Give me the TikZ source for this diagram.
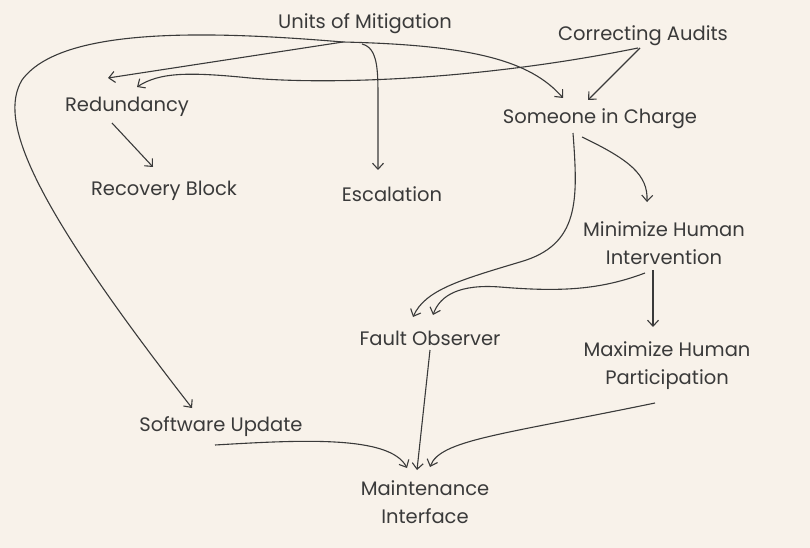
\documentclass[tikz,border=0pt]{standalone}
\usepackage{fontspec}
\setmainfont{Poppins}
\usetikzlibrary{arrows.meta,calc}
\definecolor{bg}{HTML}{F8F2EA}
\definecolor{ink}{HTML}{3A3A3A}
\begin{document}
\begin{tikzpicture}[x=1pt,y=-1pt,
  lbl/.style={inner sep=0pt,text=ink,font=\fontsize{19.5}{28}\selectfont,align=center},
  arr/.style={draw=ink,line width=1.1pt,-{Straight Barb[length=6pt,width=11pt,line width=1.1pt]}},
  ln/.style={draw=ink,line width=1.1pt}]
\useasboundingbox[fill=bg] (0,0) rectangle (810,548);
\node[lbl] (um)  at (365,24)  {Units of Mitigation};
\node[lbl] (ca)  at (643,36)  {Correcting Audits};
\node[lbl] (red) at (127,107) {Redundancy};
\node[lbl] (sic) at (600,119) {Someone in Charge};
\node[lbl] (rb)  at (164,191) {Recovery Block};
\node[lbl] (esc) at (392,194) {Escalation};
\node[lbl] (mhi) at (664,243) {Minimize Human\\Intervention};
\node[lbl] (fo)  at (430,338) {Fault Observer};
\node[lbl] (mhp) at (667,366) {Maximize Human\\Participation};
\node[lbl] (su)  at (221,427) {Software Update};
\node[lbl] (mi)  at (425,502) {Maintenance\\Interface};
% Units of Mitigation
\draw[arr] ($(um)+(-22,18)$) -- ($(red)+(-19,-29)$);
\draw[arr] ($(um)+(-22,18)$) .. controls (470,45) and (530,60) .. ($(sic)+(-37,-21)$);
\draw[arr] ($(um)+(-3,20)$) .. controls (378,48) and (378,70) .. (378,100) -- ($(esc)+(-14,-24)$);
\draw[arr] ($(um)+(-22,18)$) .. controls (200,30) and (60,28) .. (22,80)
   .. controls (-2,120) and (30,200) .. ($(su)+(-29,-19)$);
% Correcting Audits
\draw[arr] ($(ca)+(-5,12)$) .. controls (480,80) and (330,85) .. (250,78)
   .. controls (190,72) and (160,72) .. ($(red)+(10,-20)$);
\draw[arr] ($(ca)+(-3,12)$) -- ($(sic)+(-12,-19)$);
% Redundancy
\draw[arr] ($(red)+(-15,16)$) -- ($(rb)+(-11,-24)$);
% Someone in Charge
\draw[arr] ($(sic)+(-18,18)$) .. controls (630,160) and (648,175) .. ($(mhi)+(-17,-41)$);
\draw[arr] ($(sic)+(-27,14)$) .. controls (578,200) and (580,245) .. (520,262)
   .. controls (460,280) and (425,290) .. ($(fo)+(-17,-21)$);
% Minimize Human Intervention
\draw[arr] ($(mhi)+(-19,30)$) .. controls (600,290) and (560,292) .. (500,287)
   .. controls (460,284) and (440,295) .. ($(fo)+(3,-23)$);
\draw[arr] ($(mhi)+(-11,27)$) -- ($(mhp)+(-14,-39)$);
% Fault Observer
\draw[arr] ($(fo)+(0,12)$) -- ($(mi)+(-8,-32)$);
% Software Update
\draw[arr] ($(su)+(-6,18)$) .. controls (300,440) and (390,435) .. ($(mi)+(-18,-34)$);
% Maximize Human Participation
\draw[arr] ($(mhp)+(-12,37)$) .. controls (500,435) and (440,440) .. ($(mi)+(5,-35)$);
\end{tikzpicture}
\end{document}
